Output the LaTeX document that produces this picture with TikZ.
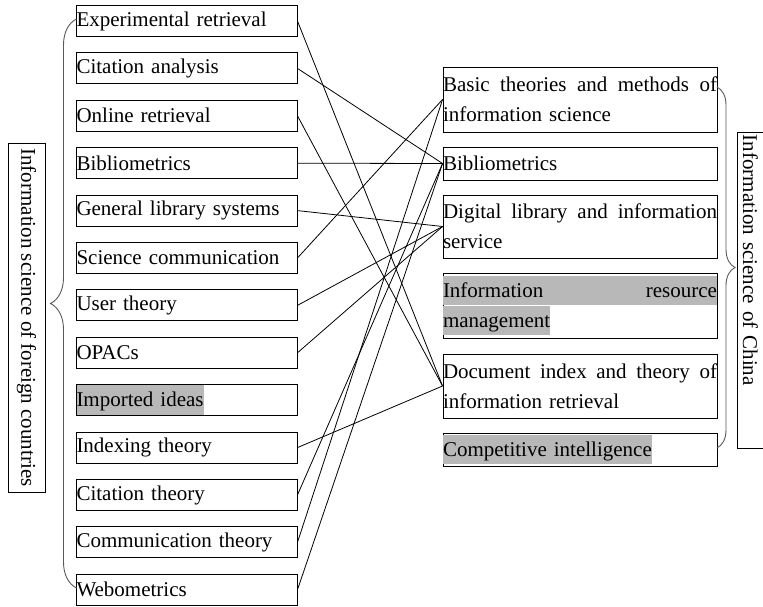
\documentclass[tikz,border=0pt]{standalone}
\usepackage{fontspec}
\setmainfont{Liberation Serif}
\usetikzlibrary{decorations.pathreplacing}
\begin{document}
\begin{tikzpicture}[x=1pt, y=-1pt,
  every node/.style={font=\fontsize{21}{30}\selectfont, inner sep=0pt},
  lbox/.style={draw, line width=0.9pt, minimum width=220.5pt, text width=220.5pt, minimum height=31pt, align=left},
  rbox/.style={draw, line width=0.9pt, minimum width=274pt, text width=274pt, align=left},
  link/.style={line width=0.8pt},
  curly/.style={draw=black!65, line width=0.9pt, decorate, decoration={brace, amplitude=#1}}]
\useasboundingbox (0,0) rectangle (763,607);
\def\hlt#1{{\setlength{\fboxsep}{0pt}\colorbox{black!28}{\rule[-8pt]{0pt}{29.5pt}#1}}}
\def\jline#1{\makebox[274pt][s]{\spaceskip=\fontdimen2\font plus 1fil\relax #1}}

%foreign topics
\foreach \i/\t in {1/Experimental retrieval, 2/Citation analysis, 3/Online retrieval,
  4/Bibliometrics, 5/General library systems, 6/Science communication, 7/User theory,
  8/OPACs, 9/\hlt{Imported ideas}, 10/Indexing theory, 11/Citation theory,
  12/Communication theory, 13/Webometrics}
{ \node[lbox] (L\i) at (186.75, {21+47.4*(\i-1)}) {\t}; }

%China topics
\node[rbox, minimum height=65pt] (Rbasic) at (580,99.5) {\jline{Basic theories and methods of}\\information science};
\node[rbox, minimum height=33pt] (Rbib) at (580,163.5) {Bibliometrics};
\node[rbox, minimum height=63pt] (Rdig) at (580,226.5) {\jline{Digital library and information}\\service};
\node[rbox, minimum height=65pt] (Rirm) at (580,305.5) {\hlt{\jline{Information resource}}\\\hlt{management}};
\node[rbox, minimum height=64pt] (Rdoc) at (580,386) {\jline{Document index and theory of}\\information retrieval};
\node[rbox, minimum height=33pt] (Rcomp) at (580,449.5) {\hlt{Competitive intelligence}};

%links
\foreach \a/\b in {L1/Rdoc, L2/Rbib, L3/Rdoc, L4/Rbib, L5/Rdig, L6/Rbasic, L7/Rdig,
  L8/Rdig, L10/Rdoc, L11/Rbib, L12/Rbasic, L13/Rbib}
{ \draw[link] (\a.east) -- (\b.west); }

%braces
\draw[curly=26pt] (76.5,588) -- (76.5,19);
\draw[curly=18pt] (717,87) -- (717,448);

%titles
\node[draw, line width=0.9pt, rotate=-90, minimum width=349pt, minimum height=37pt] (Tfor) at (26.5,317.5) {Information science of foreign countries};
\node[draw, line width=0.9pt, rotate=-90, minimum width=316pt, text width=310pt, align=left,
  inner xsep=3pt, text height=40pt, text depth=6pt] (Tchn) at (760,290) {Information science of China};
\end{tikzpicture}
\end{document}
